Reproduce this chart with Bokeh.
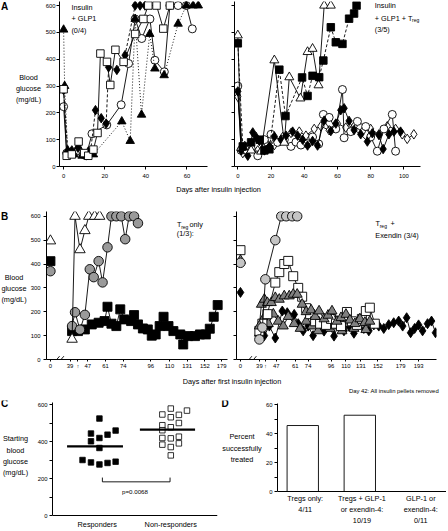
import numpy as np
from bokeh.plotting import figure
from bokeh.models import Range1d, FixedTicker, Label, Arrow, Span
from bokeh.layouts import column, row
from bokeh.embed import file_html
from bokeh.resources import INLINE

# ====================== DATA ======================
# Panel A left: Insulin + GLP1 (0/4); x = days after insulin injection, y = blood glucose (mg/dL)
aL_circle_day = [0, 1.5, 4, 7, 9.5, 11, 13.8, 21, 28, 31.6, 34.8, 38, 42, 44.4, 49, 51.7, 55.7, 59.7, 62.6]
aL_circle_bg = [223, 50, 52, 60, 45, 40, 122, 155, 230, 384, 550, 477, 550, 396, 353, 600, 600, 600, 513]
aL_tri_day = [0, 0.5, 2, 5, 9, 12, 14.5, 28.3, 32.4, 34.8, 37.9, 41.9, 44.4, 48.9, 55.7, 59.7, 63, 65.5]
aL_tri_bg = [510, 300, 60, 45, 40, 55, 45, 168, 95, 550, 193, 494, 365, 340, 532, 600, 600, 600]
aL_dia_day = [0, 2, 4, 7, 10, 13, 15.5, 18.3, 20.7, 21.9, 25.9, 29.9, 34.8, 37.2, 39.6]
aL_dia_bg = [285, 55, 60, 70, 45, 50, 210, 180, 160, 370, 360, 415, 600, 600, 600]
aL_sq_day = [0, 1.5, 4, 7.3, 10, 12, 14.5, 16.5, 17.9, 21.1, 22.7, 25.2, 29.2, 34.8, 38.8, 41.2, 45.2, 48.5, 51.7]
aL_sq_bg = [288, 40, 45, 93, 50, 40, 63, 125, 421, 390, 304, 435, 390, 494, 550, 600, 600, 514, 600]

# Panel A right: Insulin + GLP1 + Treg (3/5)
aR_tri_day = [0, 2, 4.2, 8, 14, 22, 28, 31, 37.7, 42, 45, 48.6, 52, 56]
aR_tri_bg = [489, 70, 75, 60, 56, 396, 89, 333, 254, 427, 439, 303, 600, 600]
aR_sq_day = [0, 3, 8, 13.2, 16, 19, 25, 28.7, 38.7, 42, 45, 49, 51.5, 56, 59, 63, 67, 70, 71.5]
aR_sq_bg = [459, 75, 90, 100, 60, 64, 361, 188, 332, 263, 338, 333, 395, 519, 463, 457, 551, 570, 600]
aR_circ_day = [0, 2, 5, 8, 12, 16, 20, 24, 28, 32, 35, 38, 42, 45, 48.7, 51.5, 55, 59, 63, 64, 68, 72, 77, 80, 84, 88, 93, 95]
aR_circ_bg = [300, 60, 60, 67, 40, 100, 120, 90, 100, 75, 91, 80, 85, 110, 84, 194, 183, 140, 287, 107, 130, 168, 149, 110, 57, 140, 194, 57]
aR_fdia_day = [0, 2, 6, 9, 11, 13, 16, 19, 22, 26, 29, 33, 36, 39, 42, 45, 48, 52, 56, 59, 62, 64, 67, 70, 74, 78, 81, 85, 87.5, 91, 94, 98]
aR_fdia_bg = [280, 60, 40, 127, 110, 95, 60, 75, 112, 100, 115, 130, 115, 100, 78, 95, 78, 171, 132, 160, 210, 217, 170, 136, 120, 93, 124, 117, 65, 120, 130, 130]
aR_odia_day = [0, 3, 7, 12, 17, 22, 27, 32, 37, 41, 46, 50, 55, 60, 65, 70, 75, 80, 85, 90, 95, 99, 102, 106]
aR_odia_bg = [260, 50, 80, 60, 90, 80, 110, 125, 130, 115, 140, 150, 135, 160, 145, 150, 130, 140, 120, 150, 140, 120, 103, 120]

# Panel B (axis position units; first value of each series is the pre-treatment reading at position 0)
bL_tick_pos = [0, 20, 28, 38, 56, 74, 102, 121, 139, 157, 174]
bL_tick_lab = ["0", "39", "\u2191", "47", "61", "74", "96", "110", "131", "152", "179"]
bL_tri_pos = [0, 22, 25, 30, 35, 39, 45, 50]
bL_tri_bg = [497, 85, 600, 460, 540, 600, 600, 600]
bL_circ_pos = [0, 22, 25, 30, 35, 40, 44, 49, 53, 58, 62, 67, 72, 76, 80, 85, 89]
bL_circ_bg = [370, 140, 198, 125, 187, 378, 345, 412, 323, 470, 600, 600, 600, 504, 600, 600, 571]
bL_sq_pos = [0, 22, 28, 35, 42, 49, 55, 58, 62, 67, 71, 75, 82, 85, 89, 94, 99, 103, 107, 111, 115,
             120, 125, 132, 135, 140, 147, 152, 158, 162, 166, 170]
bL_sq_bg = [412, 119, 119, 126, 147, 154, 161, 221, 150, 140, 210, 168, 161, 186, 147, 130, 126, 100, 105, 140, 179,
            140, 119, 105, 63, 98, 98, 105, 105, 129, 179, 228]

bR_tick_pos = [0, 19, 25, 36, 55, 68, 91, 106, 121, 138, 161, 179]
bR_tick_lab = ["0", "39", "\u2191", "47", "61", "74", "96", "110", "131", "152", "179", "193"]
bR_circ_pos = [0, 19, 22, 25, 35, 41, 46, 52, 57]
bR_circ_bg = [405, 84, 134, 336, 500, 600, 600, 600, 600]
bR_sq_pos = [0, 19, 22, 27, 35, 39, 44, 48, 53, 58, 62, 66, 70, 75, 80, 86, 91, 96, 101, 107, 112, 117, 122, 126, 130, 135]
bR_sq_bg = [458, 120, 150, 190, 322, 366, 400, 413, 349, 300, 263, 215, 190, 160, 150, 145, 170, 150, 140, 199, 160,
            145, 170, 203, 217, 150]
bR_tri1_pos = [0, 19, 21, 24, 27, 31, 35, 39, 44, 49, 53, 57, 62, 66, 71, 75, 79, 84, 88, 92, 97, 101, 106, 110,
               115, 120, 125, 130]
bR_tri1_bg = [415, 140, 231, 252, 238, 238, 259, 252, 266, 266, 273, 273, 231, 200, 207, 180, 203, 170, 185, 203,
              160, 175, 189, 165, 150, 170, 155, 160]
bR_tri2_pos = [19, 23, 28, 33, 38, 43, 48, 54, 60, 66, 72, 78, 84, 90, 96, 102, 108, 114, 120, 126]
bR_tri2_bg = [110, 170, 150, 190, 160, 140, 180, 150, 130, 160, 140, 120, 150, 130, 140, 120, 150, 130, 145, 125]
bR_dia_pos = [0, 19, 24, 29, 35, 42, 47, 54, 58, 63, 68, 73, 78, 84, 89, 94, 99, 104, 109, 114, 119, 124, 129, 134,
              139, 144, 149, 154, 159, 163, 167, 171, 175, 179, 183, 188, 192, 196]
bR_dia_bg = [281, 130, 100, 140, 90, 203, 196, 189, 150, 120, 140, 100, 130, 119, 140, 98, 150, 120, 140, 110, 150,
             130, 120, 145, 140, 130, 146, 154, 161, 140, 175, 112, 130, 145, 120, 150, 161, 112]

# Panel C: starting blood glucose
c_groups = ["Responders", "Non-responders"]
c_resp = [524, 443, 401, 419, 437, 459, 365, 300, 287, 276, 284, 291]
c_resp_jit = [0.03, -0.085, -0.085, 0.03, 0.14, 0.25, 0.03, -0.2, -0.085, 0.03, 0.14, 0.25]
c_non = [578, 546, 531, 544, 567, 488, 477, 500, 461, 419, 426, 417, 383, 370, 390, 325]
c_non_jit = [0, -0.115, 0, 0.11, 0.22, -0.115, 0, 0.11, -0.115, -0.115, 0.11, 0, -0.115, 0, 0.11, 0]
c_pvalue = "p=0.0068"

# Panel D: percent successfully treated
d_labels = [["Tregs only:", "4/11"], ["Tregs + GLP-1", "or exendin-4:", "10/19"], ["GLP-1 or", "exendin-4:", "0/11"]]
d_pct = [45.5, 52.6, 0]

# ====================== HELPERS ======================
KX = 446 / 448
KY = 529 / 531
FONT = "Liberation Sans"
TICK_FS = "5.9px"
TXT_FS = "7.3px"


def make_fig(outer, frame, xr, yr, xaxis=True, yaxis=True):
    ol, ot, orr, ob = (round(KX * outer[0]), round(KY * outer[1]), round(KX * outer[2]), round(KY * outer[3]))
    fl, ft, fr, fb = (round(KX * frame[0]), round(KY * frame[1]), round(KX * frame[2]), round(KY * frame[3]))
    extra = {}
    if not xaxis:
        extra["x_axis_location"] = None
    if not yaxis:
        extra["y_axis_location"] = None
    p = figure(width=orr - ol, height=ob - ot, x_range=Range1d(*xr), y_range=Range1d(*yr),
               output_backend="svg", toolbar_location=None,
               min_border_left=fl - ol, min_border_right=orr - fr,
               min_border_top=ft - ot, min_border_bottom=ob - fb, **extra)
    p.outline_line_color = None
    p.xgrid.visible = False
    p.ygrid.visible = False

    def m(rx, ry):
        x = xr[0] + (rx - frame[0]) / (frame[2] - frame[0]) * (xr[1] - xr[0])
        y = yr[0] + (frame[3] - ry) / (frame[3] - frame[1]) * (yr[1] - yr[0])
        return x, y
    return p, m


def label(p, m, rx, ry, text, size=TXT_FS, align="left", style="normal"):
    x, y = m(rx, ry)
    p.add_layout(Label(x=x, y=y, text=text, text_font=FONT, text_font_size=size, text_align=align,
                       text_baseline="middle", text_font_style=style, text_color="black"))


def style_axis(ax, tick_out=3, standoff=2, fs=TICK_FS):
    ax.axis_line_color = "black"
    ax.axis_line_width = 1
    ax.major_tick_line_color = "black"
    ax.major_tick_out = tick_out
    ax.major_tick_in = 0
    ax.minor_tick_line_color = "black"
    ax.minor_tick_out = tick_out
    ax.minor_tick_in = 0
    ax.major_label_text_font = FONT
    ax.major_label_text_font_size = fs
    ax.major_label_standoff = standoff
    ax.major_label_text_color = "black"


def series(p, x, y, marker, size, fill, dash="solid", line_from=0):
    p.line(x[line_from:], y[line_from:], line_color="black", line_width=0.9, line_dash=dash)
    p.scatter(x, y, marker=marker, size=size, fill_color=fill, line_color="black", line_width=0.9)


def text_lines(p, m, cx, ys, texts, align="center", size=TXT_FS):
    for yy, t in zip(ys, texts):
        label(p, m, cx, yy, t, align=align, size=size)


glucose_ticks = [0, 100, 200, 300, 400, 500, 600]

# ====================== ROW A ======================
A_FR = (1, 167)  # frame top/bottom (reference px)
sA, mSA = make_fig((0, 0, 42, 182), (0, A_FR[0], 42, A_FR[1]), (0, 1), (0, 1), xaxis=False, yaxis=False)
label(sA, mSA, 0.5, 6, "A", size="10px", style="bold")
text_lines(sA, mSA, 28, [77, 89, 100], ["Blood", "glucose", "(mg/dL)"])

aL, mL = make_fig((42, 0, 224, 182), (59, A_FR[0], 208, A_FR[1]), (-2, 70), (0, 615))
style_axis(aL.xaxis[0], standoff=4); style_axis(aL.yaxis[0], standoff=1)
aL.xaxis.ticker = FixedTicker(ticks=[0, 20, 40, 60])
aL.yaxis.ticker = FixedTicker(ticks=glucose_ticks)
series(aL, aL_circle_day, aL_circle_bg, "circle", 8, "white")
series(aL, aL_tri_day, aL_tri_bg, "triangle", 8.5, "black", dash="1 2")
series(aL, aL_dia_day, aL_dia_bg, "diamond", 9.5, "black", dash="3 2")
series(aL, aL_sq_day, aL_sq_bg, "square", 7.5, "white")
label(aL, mL, 71, 7, "Insulin")
label(aL, mL, 71, 18.5, "+ GLP1")
label(aL, mL, 71, 30.5, "(0/4)")

aR, mR = make_fig((224, 0, 448, 182), (235, A_FR[0], 422, A_FR[1]), (-2, 110), (0, 615))
style_axis(aR.xaxis[0], standoff=4); style_axis(aR.yaxis[0])
aR.xaxis.ticker = FixedTicker(ticks=[0, 20, 40, 60, 80, 100])
aR.yaxis.ticker = FixedTicker(ticks=[], minor_ticks=glucose_ticks)
series(aR, aR_odia_day, aR_odia_bg, "diamond", 9.5, "white")
series(aR, aR_circ_day, aR_circ_bg, "circle", 8, "white")
series(aR, aR_fdia_day, aR_fdia_bg, "diamond", 9.5, "black")
series(aR, aR_tri_day, aR_tri_bg, "triangle", 9, "white")
series(aR, aR_sq_day, aR_sq_bg, "square", 7.5, "black", dash="3 2")
label(aR, mR, 376, 5.5, "Insulin")
label(aR, mR, 376, 17.7, "+ GLP1 + T")
label(aR, mR, 413.5, 20, "reg", size="5px")
label(aR, mR, 376, 29, "(3/5)")

stripA, mSTA = make_fig((0, 182, 448, 197), (0, 182, 448, 197), (0, 1), (0, 1), xaxis=False, yaxis=False)
label(stripA, mSTA, 219, 190, "Days after insulin injection", align="center")

# ====================== ROW B ======================
B_FR = (212, 360)


def b_axes(p, ticks, labs, ylabels=True):
    style_axis(p.xaxis[0], tick_out=2, standoff=1); style_axis(p.yaxis[0], standoff=3)
    p.xaxis.ticker = FixedTicker(ticks=ticks)
    p.xaxis.major_label_overrides = {t: l for t, l in zip(ticks, labs)}
    if ylabels:
        p.yaxis.ticker = FixedTicker(ticks=glucose_ticks)
    else:
        p.yaxis.ticker = FixedTicker(ticks=[], minor_ticks=glucose_ticks)


sB, mSB = make_fig((0, 197, 27, 375), (0, B_FR[0], 27, B_FR[1]), (0, 1), (0, 1), xaxis=False, yaxis=False)
label(sB, mSB, 0.5, 217, "B", size="10px", style="bold")
text_lines(sB, mSB, 13.5, [278, 289, 300], ["Blood", "glucose", "(mg/dL)"])

bL, mBL = make_fig((27, 197, 230, 375), (44, B_FR[0], 228, B_FR[1]), (-4, 180), (0, 620))
b_axes(bL, bL_tick_pos, bL_tick_lab)
series(bL, bL_sq_pos, bL_sq_bg, "square", 9, "black", line_from=1)
series(bL, bL_circ_pos, bL_circ_bg, "circle", 9.5, "#9a9a9a", line_from=1)
series(bL, bL_tri_pos, bL_tri_bg, "triangle", 10.5, "white", line_from=1)
for xs, xe in ((2.7, 9.3), (7, 13.7)):
    bL.add_layout(Arrow(end=None, x_start=xs, y_start=-18, x_end=xe, y_end=14, line_color="black", line_width=0.9))
label(bL, mBL, 176.7, 225, "T")
label(bL, mBL, 180.9, 227.5, "reg", size="5px")
label(bL, mBL, 189.3, 225, "only")
label(bL, mBL, 176.5, 234, "(1/3):")

bR, mBR = make_fig((230, 197, 448, 375), (237, B_FR[0], 438, B_FR[1]), (-4, 197), (0, 620))
b_axes(bR, bR_tick_pos, bR_tick_lab, ylabels=False)
series(bR, bR_dia_pos, bR_dia_bg, "diamond", 10, "black", line_from=1)
series(bR, bR_tri2_pos, bR_tri2_bg, "triangle", 10, "#808080")
series(bR, bR_sq_pos, bR_sq_bg, "square", 9, "white", line_from=1)
series(bR, bR_tri1_pos, bR_tri1_bg, "triangle", 10, "#808080", line_from=1)
series(bR, bR_circ_pos, bR_circ_bg, "circle", 9.5, "#c4c4c4", line_from=1)
for xs, xe in ((5, 11.5), (9.5, 16)):
    bR.add_layout(Arrow(end=None, x_start=xs, y_start=-18, x_end=xe, y_end=14, line_color="black", line_width=0.9))
label(bR, mBR, 376.7, 224.3, "T")
label(bR, mBR, 380.9, 226.8, "reg", size="5px")
label(bR, mBR, 391.7, 224.3, "+")
label(bR, mBR, 376.5, 235.7, "Exendin (3/4)")

stripB, mSTB = make_fig((0, 375, 448, 397), (0, 375, 448, 397), (0, 1), (0, 1), xaxis=False, yaxis=False)
label(stripB, mSTB, 232.5, 382, "Days after first insulin injection", align="center")
label(stripB, mSTB, 350, 391, "Day 42: All insulin pellets removed", size="5.9px")

# ====================== ROW C / D ======================
CD_FR = (402, 531)

sC, mSC = make_fig((0, 397, 33, 531), (0, CD_FR[0], 33, CD_FR[1]), (0, 1), (0, 1), xaxis=False, yaxis=False)
label(sC, mSC, 0.5, 405, "C", size="10px", style="bold")
text_lines(sC, mSC, 15, [440, 452, 463, 474], ["Starting", "blood", "glucose", "(mg/dL)"])

c_zero_px, c_px_per = 517, 0.185   # y-axis placement: value 0 at ref px 517
c, mC = make_fig((33, 397, 220, 531), (52, CD_FR[0], 218, CD_FR[1]), (0.392, 2.635),
                 ((c_zero_px - CD_FR[1]) / c_px_per, (c_zero_px - CD_FR[0]) / c_px_per), xaxis=False)
style_axis(c.yaxis[0], standoff=2)
c.yaxis.ticker = FixedTicker(ticks=[0, 200, 400, 600], minor_ticks=[100, 300, 500])
c.yaxis.bounds = (0, 612)
c.add_layout(Span(location=0, dimension="width", line_color="black", line_width=1))
c.scatter([1 + j for j in c_resp_jit], c_resp, marker="square", size=5.5, fill_color="black",
          line_color="black", line_width=0.8)
c.scatter([2 + j for j in c_non_jit], c_non, marker="square", size=5.5, fill_color="white",
          line_color="black", line_width=0.8)
c_means = [float(np.mean(c_resp)), float(np.mean(c_non))]
c.segment(x0=[1 - 0.41, 2 - 0.42], y0=c_means, x1=[1 + 0.35, 2 + 0.33], y1=c_means,
          line_color="black", line_width=2.2)
c.line([1.07, 1.07, 1.99, 1.99], [205, 182, 182, 205], line_color="black", line_width=0.9)
label(c, mC, 135, 493, c_pvalue, size="6.2px", align="center")
for gx, g in zip([97, 171], c_groups):
    label(c, mC, gx, 526, g, align="center")

sD, mSD = make_fig((220, 397, 263, 531), (220, CD_FR[0], 263, CD_FR[1]), (0, 1), (0, 1), xaxis=False, yaxis=False)
label(sD, mSD, 222, 405, "D", size="10px", style="bold")
text_lines(sD, mSD, 242.5, [438, 450, 461], ["Percent", "successfully", "treated"])

d_zero_px, d_px_per = 493, 1.45
d, mD = make_fig((263, 397, 448, 531), (277, CD_FR[0], 448, CD_FR[1]), (0.557, 3.52),
                 ((d_zero_px - CD_FR[1]) / d_px_per, (d_zero_px - CD_FR[0]) / d_px_per), xaxis=False)
style_axis(d.yaxis[0], standoff=2)
d.yaxis.ticker = FixedTicker(ticks=[0, 20, 40, 60], minor_ticks=[10, 30, 50])
d.yaxis.bounds = (0, 61)
d.add_layout(Span(location=0, dimension="width", line_color="black", line_width=1))
d.vbar(x=[1, 2], top=d_pct[:2], width=0.55, fill_color="white", line_color="black", line_width=0.9)
for cx, lines in zip([305, 362.5, 422], d_labels):
    text_lines(d, mD, cx, [500, 511, 522][:len(lines)], lines)

layout = column(row(sA, aL, aR), stripA, row(sB, bL, bR), stripB, row(sC, c, sD, d))
open("out.html", "w").write(file_html(layout, INLINE))
